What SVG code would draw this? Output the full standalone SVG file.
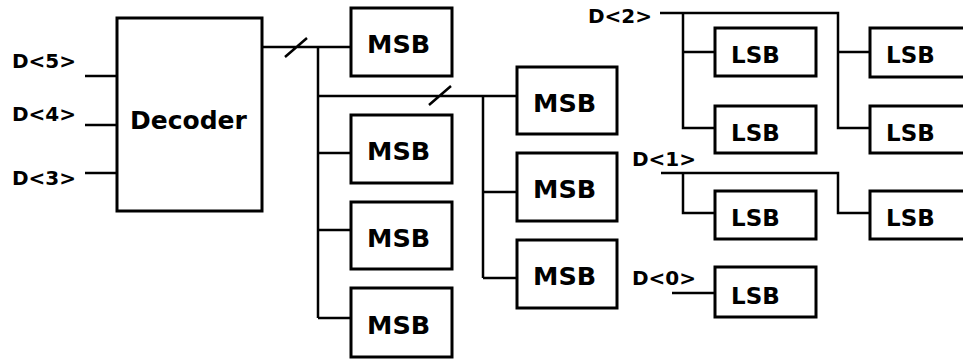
<svg xmlns="http://www.w3.org/2000/svg" width="963" height="360" viewBox="0 0 963 360">
<style>
.box{fill:#fff;stroke:#000;stroke-width:3}
.w{fill:none;stroke:#000;stroke-width:2.5}
.t{font-family:"DejaVu Sans",sans-serif;font-weight:bold;fill:#000}
.lbl{font-size:20px}
.big{font-size:25.5px}
.ls{font-size:23px}
</style>
<rect width="963" height="360" fill="#fff"/>
<g id="connectors" class="w">
<path d="M85 76H117M85 125H117M85 173H117"/>
<path d="M262 47H351M285 57L307 38"/>
<path d="M318 47V318M318 96H517M429 105L451 86"/>
<path d="M318 153H351M318 230H351M318 318H351"/>
<path d="M483 96V278M483 192H517M483 278H517"/>
<path d="M660 13H838V128H869M838 52H869M683 13V128H715M683 52H715"/>
<path d="M661 173H838V213H869M683 173V213H715"/>
<path d="M672 293H715"/>
</g>
<g id="labels" class="t lbl">
<text x="12" y="68">D&lt;5&gt;</text>
<text x="12" y="121">D&lt;4&gt;</text>
<text x="12" y="185">D&lt;3&gt;</text>
<text x="588" y="23">D&lt;2&gt;</text>
<text x="632" y="166">D&lt;1&gt;</text>
<text x="632" y="285">D&lt;0&gt;</text>
</g>
<g id="decoder"><rect class="box" x="117" y="18" width="145" height="193"/><text class="t" x="130" y="129" font-size="25">Decoder</text></g>
<g id="msb1"><rect class="box" x="351" y="8" width="101" height="68"/><text class="t big" x="367" y="53">MSB</text></g>
<g id="msb2"><rect class="box" x="351" y="115" width="101" height="68"/><text class="t big" x="367" y="160">MSB</text></g>
<g id="msb3"><rect class="box" x="351" y="202" width="101" height="67"/><text class="t big" x="367" y="247">MSB</text></g>
<g id="msb4"><rect class="box" x="351" y="288" width="101" height="69"/><text class="t big" x="367" y="334">MSB</text></g>
<g id="msb5"><rect class="box" x="517" y="67" width="100" height="67"/><text class="t big" x="533" y="112">MSB</text></g>
<g id="msb6"><rect class="box" x="517" y="153" width="100" height="68"/><text class="t big" x="533" y="198">MSB</text></g>
<g id="msb7"><rect class="box" x="517" y="240" width="100" height="68"/><text class="t big" x="533" y="285">MSB</text></g>
<g id="lsb1"><rect class="box" x="715" y="28" width="101" height="48"/><text class="t ls" x="731" y="63">LSB</text></g>
<g id="lsb2"><rect class="box" x="715" y="106" width="101" height="47"/><text class="t ls" x="731" y="141">LSB</text></g>
<g id="lsb3"><rect class="box" x="870" y="28" width="110" height="49"/><text class="t ls" x="886" y="63">LSB</text></g>
<g id="lsb4"><rect class="box" x="870" y="106" width="110" height="47"/><text class="t ls" x="886" y="141">LSB</text></g>
<g id="lsb5"><rect class="box" x="715" y="191" width="101" height="48"/><text class="t ls" x="731" y="226">LSB</text></g>
<g id="lsb6"><rect class="box" x="870" y="191" width="110" height="48"/><text class="t ls" x="886" y="226">LSB</text></g>
<g id="lsb7"><rect class="box" x="715" y="267" width="101" height="50"/><text class="t ls" x="731" y="304">LSB</text></g>
</svg>
